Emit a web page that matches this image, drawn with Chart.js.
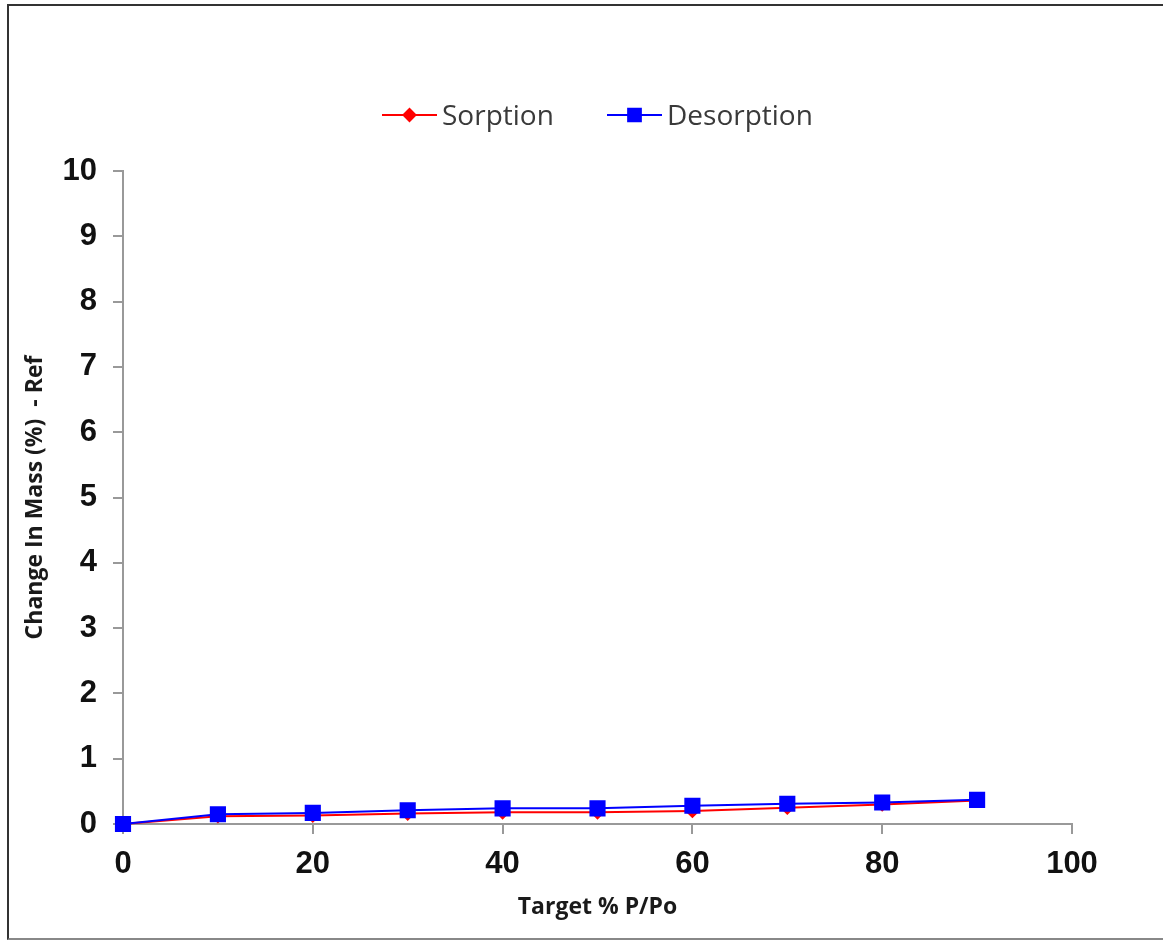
<!DOCTYPE html>
<html>
<head>
<meta charset="utf-8">
<title>Change In Mass vs Target % P/Po</title>
<script src="https://cdn.jsdelivr.net/npm/chart.js@4.4.1/dist/chart.umd.min.js"></script>
<style>
  html, body { margin: 0; padding: 0; background: #ffffff; overflow: hidden; }
  #wrap { position: relative; width: 1163px; height: 941px; }
  #frame {
    position: absolute; left: 7px; top: 4px; width: 1170px; height: 932px;
    border-top: 2px solid #333; border-left: 2px solid #333; border-bottom: 2px solid #888;
    pointer-events: none; box-sizing: content-box;
  }
  canvas { position: absolute; left: 0; top: 0; }
</style>
</head>
<body>
<div id="wrap">
  <canvas id="chart" width="1163" height="941"></canvas>
  <div id="frame"></div>
</div>
<script>
// Target relative pressure (%)
const targetPressure = [0, 10, 20, 30, 40, 50, 60, 70, 80, 90];
// Change in mass (%) relative to reference
const sorption   = [0, 0.12, 0.13, 0.16, 0.18, 0.18, 0.20, 0.25, 0.30, 0.36];
const desorption = [0, 0.15, 0.17, 0.21, 0.24, 0.24, 0.28, 0.31, 0.33, 0.37];
// Axis ticks
const xTicks = [0, 20, 40, 60, 80, 100];
const yTicks = [0, 1, 2, 3, 4, 5, 6, 7, 8, 9, 10];

const axisGray = '#999999';
const tickFont = { family: '"Liberation Sans", Arial, sans-serif', size: 31, weight: 'bold' };
const titleFont = { family: '"Open Sans", sans-serif', size: 23, weight: 'bold' };

const toPoints = ys => targetPressure.map((x, i) => ({ x: x, y: ys[i] }));

// Legend drawn as line-with-marker samples, like the series themselves
const lineLegend = {
  id: 'lineLegend',
  afterDraw(chart) {
    const ctx = chart.ctx;
    const items = [
      { ds: chart.data.datasets[0], x0: 382, x1: 437, tx: 442 },
      { ds: chart.data.datasets[1], x0: 607, x1: 662, tx: 667 }
    ];
    const y = 115;
    ctx.save();
    items.forEach(it => {
      ctx.strokeStyle = it.ds.borderColor;
      ctx.lineWidth = 2;
      ctx.beginPath();
      ctx.moveTo(it.x0, y);
      ctx.lineTo(it.x1, y);
      ctx.stroke();
      ctx.fillStyle = it.ds.pointBackgroundColor;
      ctx.strokeStyle = it.ds.pointBorderColor;
      Chart.helpers.drawPoint(ctx, {
        pointStyle: it.ds.pointStyle,
        radius: it.ds.legendRadius,
        borderWidth: 1,
        rotation: 0
      }, (it.x0 + it.x1) / 2, y);
      ctx.fillStyle = '#3a3a3a';
      ctx.font = '28px "Open Sans", sans-serif';
      ctx.textAlign = 'left';
      ctx.textBaseline = 'middle';
      ctx.fillText(it.ds.label, it.tx, y + 2);
    });
    ctx.restore();
  }
};

new Chart(document.getElementById('chart'), {
  type: 'line',
  data: {
    datasets: [
      {
        label: 'Sorption',
        data: toPoints(sorption),
        borderColor: '#ff0000',
        backgroundColor: '#ff0000',
        pointBackgroundColor: '#ff0000',
        pointBorderColor: '#ff0000',
        pointStyle: 'rectRot',
        pointRadius: 6,
        legendRadius: 6,
        borderWidth: 2,
        tension: 0,
        order: 1,
        clip: false
      },
      {
        label: 'Desorption',
        data: toPoints(desorption),
        borderColor: '#0000ff',
        backgroundColor: '#0000ff',
        pointBackgroundColor: '#0000ff',
        pointBorderColor: '#0000ff',
        pointStyle: 'rect',
        pointRadius: 10,
        legendRadius: 9,
        borderWidth: 2,
        tension: 0,
        order: 0,
        clip: false
      }
    ]
  },
  options: {
    responsive: false,
    animation: false,
    events: [],
    layout: { padding: { top: 171, right: 91, bottom: 0, left: 0 } },
    plugins: {
      legend: { display: false },
      tooltip: { enabled: false }
    },
    scales: {
      x: {
        type: 'linear',
        min: 0,
        max: 100,
        afterFit(scale) { scale.height = 117; },
        afterBuildTicks(scale) { scale.ticks = xTicks.map(v => ({ value: v })); },
        ticks: { font: tickFont, color: '#111', padding: 12, maxRotation: 0 },
        grid: { drawOnChartArea: false, drawTicks: true, tickLength: 10, color: axisGray, lineWidth: 2 },
        border: { display: true, color: axisGray, width: 2 },
        title: {
          display: true,
          text: 'Target % P/Po',
          font: titleFont,
          color: '#1a1a1a',
          padding: { top: 0, bottom: 20 }
        }
      },
      y: {
        type: 'linear',
        min: 0,
        max: 10,
        afterFit(scale) { scale.width = 123; },
        afterBuildTicks(scale) { scale.ticks = yTicks.map(v => ({ value: v })); },
        ticks: { font: tickFont, color: '#111', padding: 16 },
        grid: { drawOnChartArea: false, drawTicks: true, tickLength: 10, color: axisGray, lineWidth: 2 },
        border: { display: true, color: axisGray, width: 2 },
        title: {
          display: true,
          text: 'Change In Mass (%)  - Ref',
          font: titleFont,
          color: '#1a1a1a',
          padding: { top: 22, bottom: 0 }
        }
      }
    }
  },
  plugins: [lineLegend]
});
</script>
</body>
</html>
